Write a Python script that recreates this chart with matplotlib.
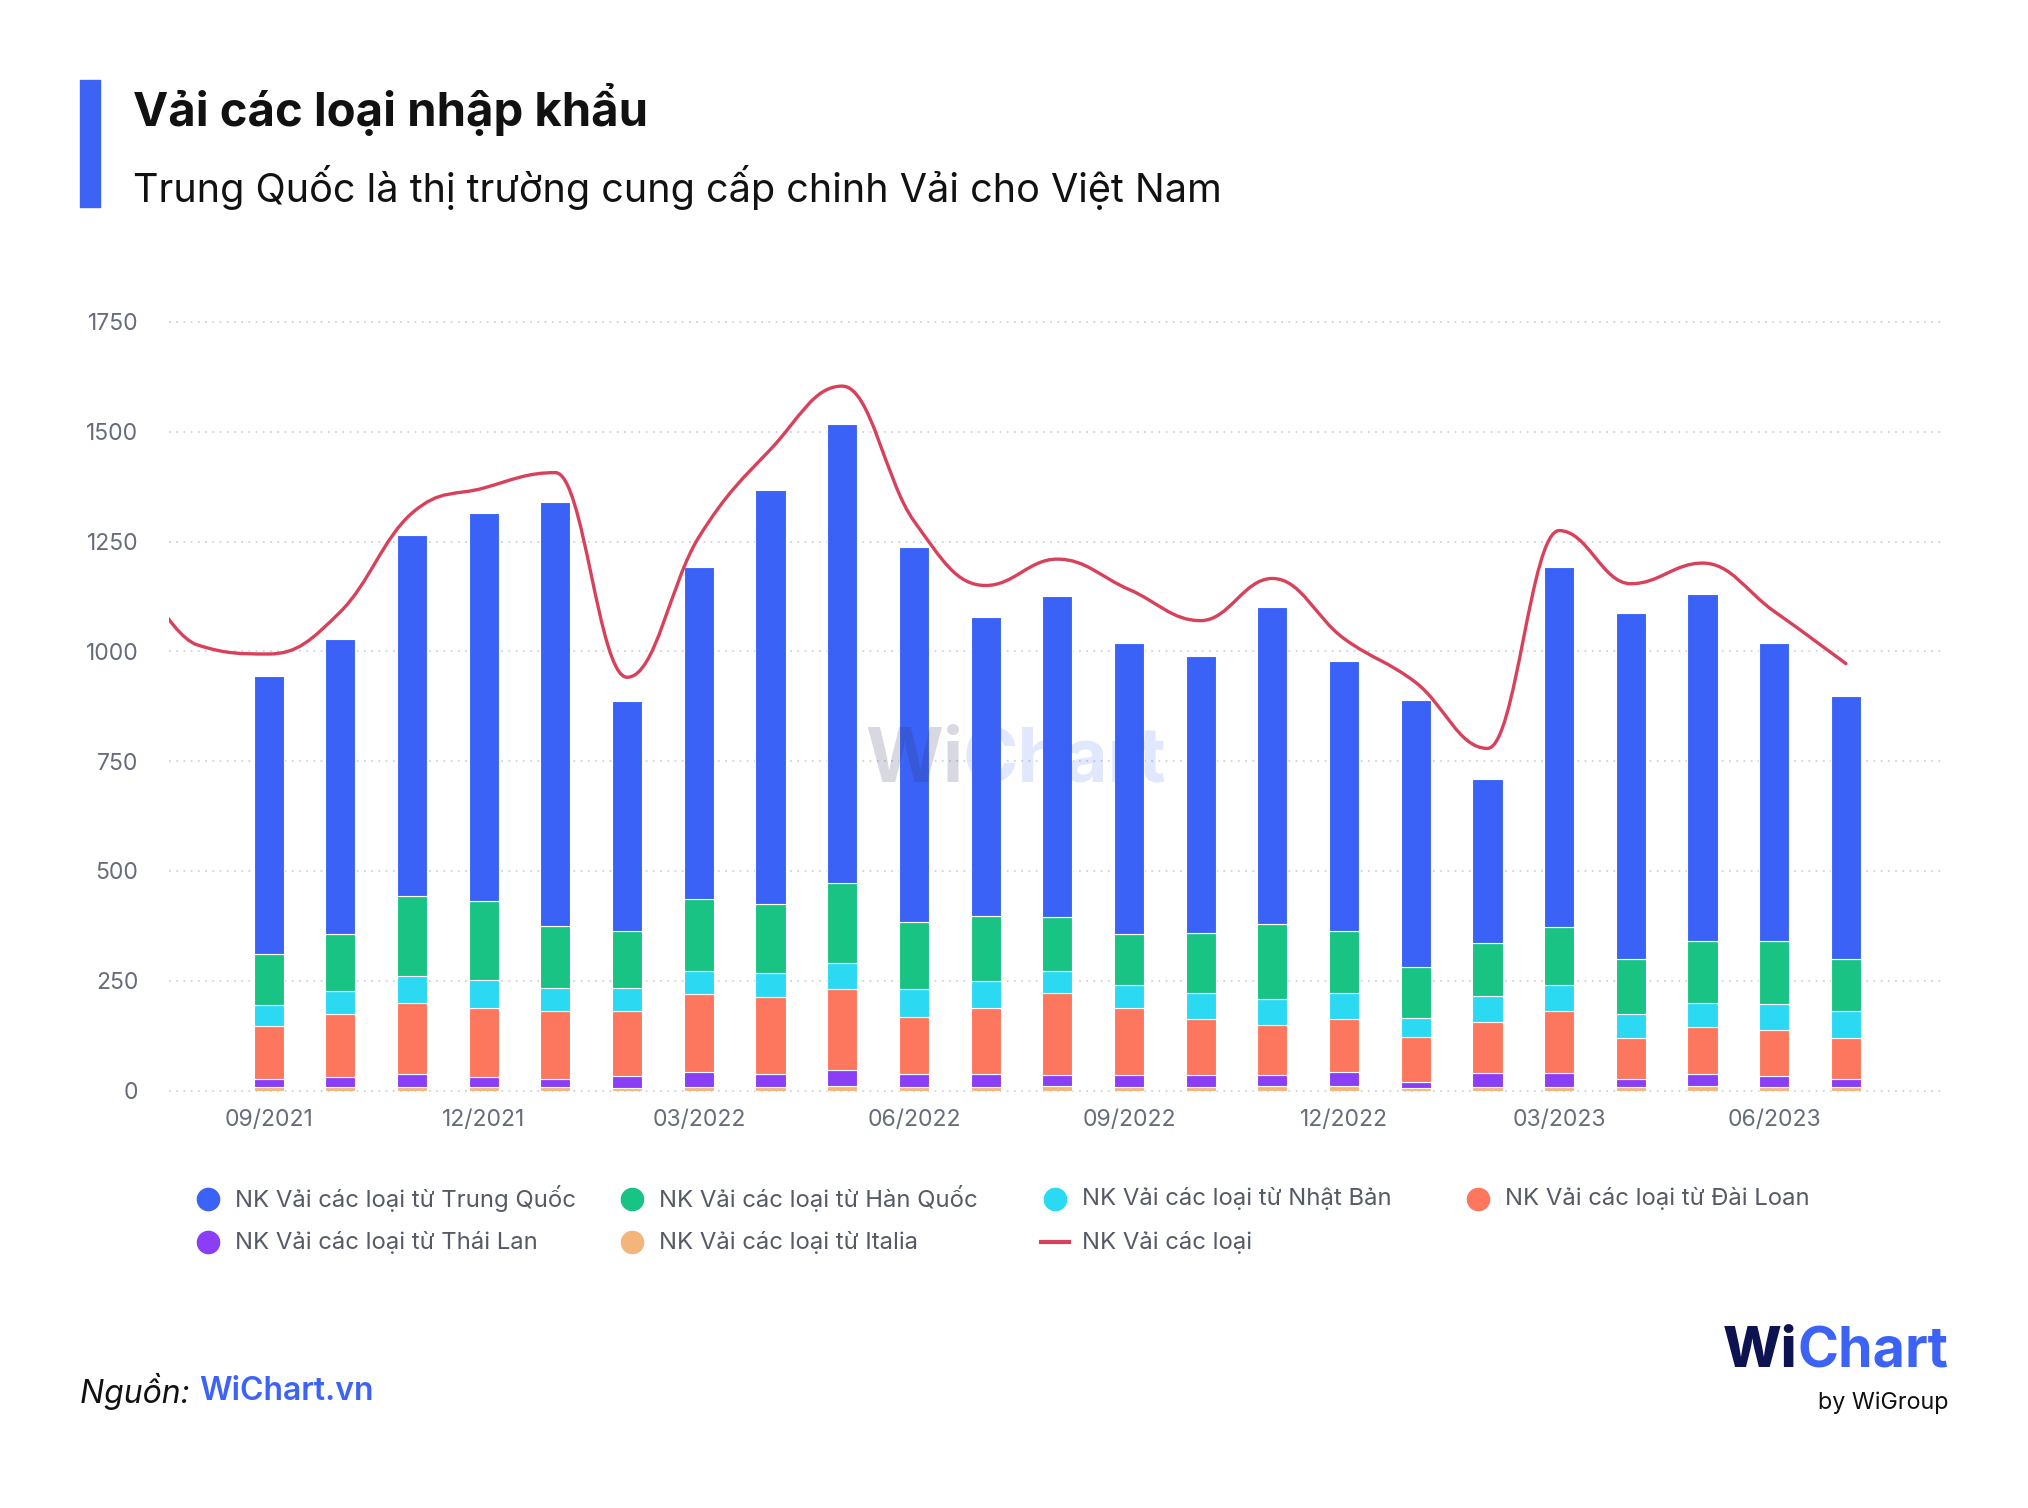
import numpy as np
import matplotlib
matplotlib.use('Agg')
import matplotlib.pyplot as plt
from matplotlib.path import Path
from matplotlib.patches import PathPatch, Rectangle
from matplotlib.lines import Line2D

plt.rcParams['font.family'] = ['Inter', 'DejaVu Sans']

# du lieu doc tu bieu do (tan)
thang = ['09/2021', '10/2021', '11/2021', '12/2021', '01/2022', '02/2022', '03/2022',
         '04/2022', '05/2022', '06/2022', '07/2022', '08/2022', '09/2022', '10/2022',
         '11/2022', '12/2022', '01/2023', '02/2023', '03/2023', '04/2023', '05/2023',
         '06/2023', '07/2023']
trung_quoc = [635, 673, 822, 885, 965, 522, 757, 942, 1046, 855, 682, 731, 664, 631,
              721, 614, 609, 372, 819, 789, 789, 678, 599]
han_quoc = [115, 130, 184, 180, 142, 131, 162, 157, 181, 151, 147, 122, 116, 137,
            171, 142, 116, 121, 132, 124, 141, 143, 119]
nhat_ban = [48, 51, 60, 62, 52, 52, 54, 55, 60, 65, 61, 50, 51, 60,
            58, 60, 43, 61, 60, 56, 56, 60, 62]
dai_loan = [121, 144, 162, 158, 155, 149, 178, 175, 184, 129, 151, 187, 153, 126,
            114, 120, 102, 115, 141, 92, 106, 105, 93]
thai_lan = [18, 24, 30, 24, 19, 26, 33, 30, 37, 30, 30, 25, 29, 28,
            26, 32, 15, 32, 31, 20, 28, 25, 19]
italia = [8, 7, 8, 7, 7, 6, 8, 8, 10, 8, 8, 10, 7, 8,
          10, 10, 5, 8, 8, 7, 10, 7, 7]

# tong NK (duong), bat dau tu 07/2021
thang_tong = ['07/2021', '08/2021'] + thang
tong = [1240, 1015, 994, 1090, 1315, 1372, 1407, 941, 1260, 1460, 1604, 1297, 1150,
        1210, 1141, 1070, 1166, 1029, 929, 779, 1275, 1154, 1201, 1091, 972]

series = [
    ('NK Vải các loại từ Italia', italia, '#F4B57B'),
    ('NK Vải các loại từ Thái Lan', thai_lan, '#8A3FF6'),
    ('NK Vải các loại từ Đài Loan', dai_loan, '#FD775E'),
    ('NK Vải các loại từ Nhật Bản', nhat_ban, '#2BD9F2'),
    ('NK Vải các loại từ Hàn Quốc', han_quoc, '#19C384'),
    ('NK Vải các loại từ Trung Quốc', trung_quoc, '#3B62F6'),
]
mau_duong = '#D9405A'


def spline_path(xs, ys, smoothing=1.5):
    # duong cong kieu spline (Bezier) di qua cac diem du lieu
    n = len(xs)
    left = [None] * n
    right = [None] * n
    for i in range(1, n - 1):
        px, py = xs[i], ys[i]
        lx, ly = xs[i - 1], ys[i - 1]
        nx, ny = xs[i + 1], ys[i + 1]
        d = smoothing + 1
        lcx, lcy = (smoothing * px + lx) / d, (smoothing * py + ly) / d
        rcx, rcy = (smoothing * px + nx) / d, (smoothing * py + ny) / d
        corr = (rcy - lcy) * (rcx - px) / (rcx - lcx) + py - rcy
        lcy += corr
        rcy += corr
        if lcy > ly and lcy > py:
            lcy = max(ly, py)
            rcy = 2 * py - lcy
        elif lcy < ly and lcy < py:
            lcy = min(ly, py)
            rcy = 2 * py - lcy
        if rcy > ny and rcy > py:
            rcy = max(ny, py)
            lcy = 2 * py - rcy
        elif rcy < ny and rcy < py:
            rcy = min(ny, py)
            lcy = 2 * py - rcy
        left[i] = (lcx, lcy)
        right[i] = (rcx, rcy)
    verts = [(xs[0], ys[0])]
    codes = [Path.MOVETO]
    for i in range(1, n):
        c1 = right[i - 1] if right[i - 1] else (xs[i - 1], ys[i - 1])
        c2 = left[i] if left[i] else (xs[i], ys[i])
        verts += [c1, c2, (xs[i], ys[i])]
        codes += [Path.CURVE4] * 3
    return Path(verts, codes)


fig = plt.figure(figsize=(20.28, 15.08), dpi=100)
W, H = 2028, 1508

ax = fig.add_axes([169 / W, 1 - 1090.5 / H, (1942 - 169) / W, (1090.5 - 322) / H])
x = np.arange(len(thang))
bottom = np.zeros(len(thang))
for ten, vals, mau in series:
    ax.bar(x, vals, width=0.42, bottom=bottom, color=mau, edgecolor='white',
           linewidth=0.8, zorder=3)
    bottom += np.array(vals)

x_tong = np.arange(len(thang_tong)) - 2
ax.add_patch(PathPatch(spline_path(list(x_tong), tong), facecolor='none',
                       edgecolor=mau_duong, linewidth=2.4, zorder=4,
                       capstyle='round', joinstyle='round'))

yticks = np.arange(0, 1751, 250)
ax.hlines(yticks, -1.39, 23.34, colors='#cfd3db', linestyles=(0, (1, 3)),
          linewidth=1.3, zorder=1, clip_on=False)
ax.set_xlim(-1.39, 23.34)
ax.set_ylim(0, 1750)
ax.set_yticks(yticks)
ax.set_yticklabels([str(v) for v in yticks])
ax.set_xticks(x[::3])
ax.set_xticklabels(thang[::3])
ax.tick_params(axis='both', length=0, labelsize=16.5, labelcolor='#666c7a')
ax.tick_params(axis='y', pad=22)
ax.tick_params(axis='x', pad=13)
for s in ax.spines.values():
    s.set_visible(False)
ax.patch.set_alpha(0)

# watermark
fig.text(963 / W, 1 - 763 / H, 'Wi', fontsize=54, fontweight='bold',
         color='#2a2f55', alpha=0.18, ha='right', va='center', zorder=10)
fig.text(963 / W, 1 - 763 / H, 'Chart', fontsize=54, fontweight='bold',
         color='#3B62F6', alpha=0.15, ha='left', va='center', zorder=10)

# tieu de
fig.patches.append(Rectangle((80 / W, 1 - 207 / H), 20 / W, 127 / H,
                             transform=fig.transFigure, color='#3D63F5'))
fig.text(133 / W, 1 - 110 / H, 'Vải các loại nhập khẩu', fontsize=34,
         fontweight='bold', color='#111111', va='center', ha='left')
fig.text(133 / W, 1 - 188 / H, 'Trung Quốc là thị trường cung cấp chinh Vải cho Việt Nam',
         fontsize=28.5, color='#111111', va='center', ha='left')

# chu thich
legend_items = [
    ('NK Vải các loại từ Trung Quốc', '#3B62F6', 'o'),
    ('NK Vải các loại từ Hàn Quốc', '#19C384', 'o'),
    ('NK Vải các loại từ Nhật Bản', '#2BD9F2', 'o'),
    ('NK Vải các loại từ Đài Loan', '#FD775E', 'o'),
    ('NK Vải các loại từ Thái Lan', '#8A3FF6', 'o'),
    ('NK Vải các loại từ Italia', '#F4B57B', 'o'),
    ('NK Vải các loại', mau_duong, '-'),
]
cot_x = [208, 632, 1055, 1478]
hang_y = [1199, 1242]
for i, (ten, mau, kieu) in enumerate(legend_items):
    lx = cot_x[i % 4] / W
    ly = 1 - hang_y[i // 4] / H
    if kieu == 'o':
        fig.add_artist(Line2D([lx], [ly], marker='o', markersize=16, color=mau,
                              linestyle='none', transform=fig.transFigure))
    else:
        fig.add_artist(Line2D([lx - 14 / W, lx + 14 / W], [ly, ly], color=mau,
                              linewidth=3, transform=fig.transFigure))
    fig.text(lx + 27 / W, ly, ten, fontsize=17.2, color='#555a66', va='center', ha='left')

# nguon + logo
r = fig.canvas.get_renderer()
t1 = fig.text(80 / W, 1 - 1392 / H, 'Nguồn: ', fontsize=23, style='italic',
              color='#111111', va='center', ha='left')
bb = t1.get_window_extent(r)
fig.text(bb.x1 / W, 1 - 1392 / H, 'WiChart.vn', fontsize=23, fontweight='semibold',
         color='#3D63F5', va='center', ha='left')

t2 = fig.text(1948 / W, 1 - 1352 / H, 'Chart', fontsize=40, fontweight='bold',
              color='#3D63F5', va='center', ha='right')
bb2 = t2.get_window_extent(r)
fig.text(bb2.x0 / W, 1 - 1352 / H, 'Wi', fontsize=40, fontweight='heavy',
         color='#0D1250', va='center', ha='right')
fig.text(1948 / W, 1 - 1403 / H, 'by WiGroup', fontsize=16.8, color='#111111',
         va='center', ha='right')

fig.savefig('out.png', dpi=100)
